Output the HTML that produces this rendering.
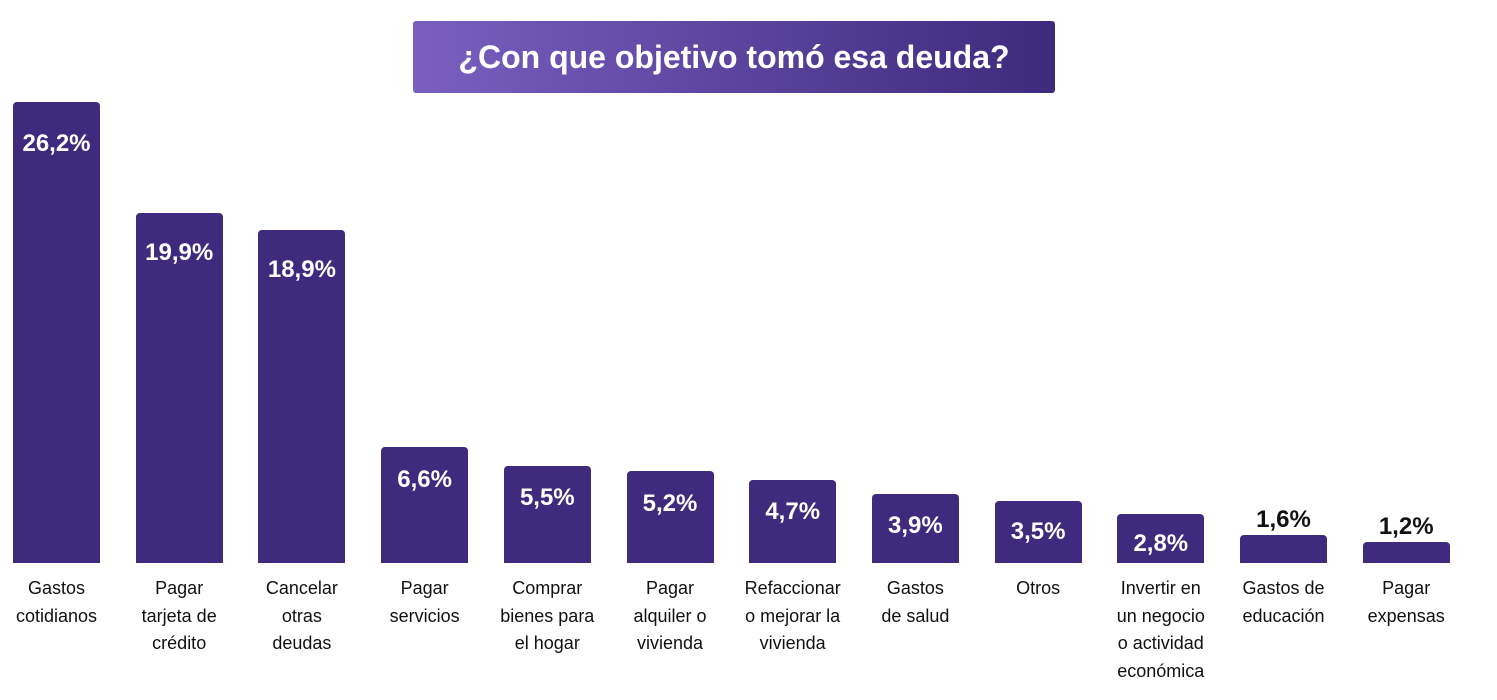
<!DOCTYPE html>
<html><head><meta charset="utf-8"><style>
body{margin:0;width:1497px;height:700px;background:#fff;overflow:hidden;font-family:"Liberation Sans",sans-serif;position:relative}
#title{position:absolute;left:413px;top:21px;width:642px;height:72px;border-radius:3px;background:linear-gradient(90deg,#7a5fc0,#3e2a7c);color:#fff;font-weight:bold;font-size:32px;line-height:72px;text-align:center}
.bar{position:absolute;background:#3f2a7d;border-radius:4px 4px 0 0}
.val{position:absolute;width:120px;text-align:center;font-weight:bold;font-size:24px;line-height:28px}
.cat{position:absolute;width:130px;text-align:center;font-size:18px;line-height:27.5px;color:#111;top:575px}
</style></head><body>
<div id="title">¿Con que objetivo tomó esa deuda?</div>
<div id="chart"></div>
<script>
const categories=["Gastos<br>cotidianos","Pagar<br>tarjeta de<br>crédito","Cancelar<br>otras<br>deudas","Pagar<br>servicios","Comprar<br>bienes para<br>el hogar","Pagar<br>alquiler o<br>vivienda","Refaccionar<br>o mejorar la<br>vivienda","Gastos<br>de salud","Otros","Invertir en<br>un negocio<br>o actividad<br>económica","Gastos de<br>educación","Pagar<br>expensas"];
const values=[26.2,19.9,18.9,6.6,5.5,5.2,4.7,3.9,3.5,2.8,1.6,1.2];
const labels=["26,2%","19,9%","18,9%","6,6%","5,5%","5,2%","4,7%","3,9%","3,5%","2,8%","1,6%","1,2%"];
const base=563,scale=17.6,x0=13,pitch=122.7,bw=87;
const c=document.getElementById('chart');
function yH(v){return v*scale;}
values.forEach((v,i)=>{
const x=x0+i*pitch,h=yH(v);
const b=document.createElement('div');b.className='bar';


b.style.left=x+'px';b.style.top=(base-h)+'px';b.style.width=bw+'px';b.style.height=h+'px';c.appendChild(b);
const l=document.createElement('div');l.className='val';


l.textContent=labels[i];l.style.left=(x+bw/2-60)+'px';
if(h>40){l.style.top=(base-h+15+Math.min(h/30,13))+'px';l.style.color='#fff';}else{l.style.top=(base-h-29)+'px';l.style.color='#111';}
c.appendChild(l);
const t=document.createElement('div');t.className='cat';


t.innerHTML=categories[i];t.style.left=(x+bw/2-65)+'px';c.appendChild(t);
});
</script>
</body></html>
